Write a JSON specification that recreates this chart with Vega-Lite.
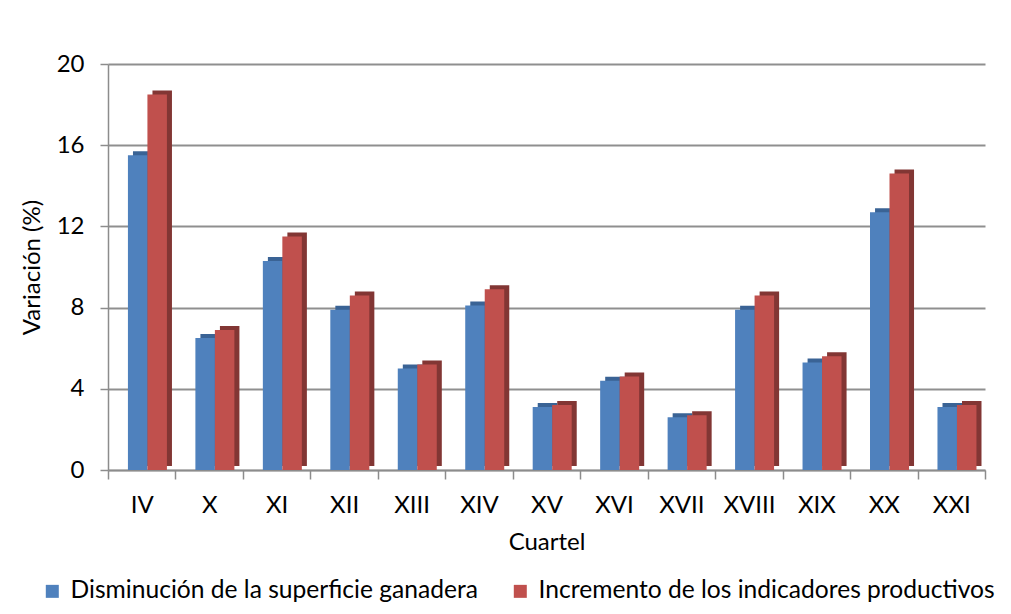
{
  "$schema": "https://vega.github.io/schema/vega-lite/v6.json",
  "width": 877,
  "height": 406,
  "autosize": {"type": "none"},
  "padding": {"left": 108, "top": 64, "right": 26, "bottom": 144},
  "background": "white",
  "config": {
    "view": {"stroke": null},
    "font": "Lato",
    "axis": {
      "labelFont": "Lato", "titleFont": "Lato", "labelFontSize": 24, "titleFontSize": 24,
      "labelColor": "#000000", "titleColor": "#000000", "titleFontWeight": "normal",
      "domainColor": "#8c8c8c", "domainWidth": 1.5, "tickColor": "#8c8c8c", "tickWidth": 1.5
    },
    "legend": {"labelFont": "Lato", "labelFontSize": 24.6, "labelColor": "#000000", "labelLimit": 0}
  },
  "data": {
    "values": [
      {"cuartel": "IV", "serie": "Disminución de la superficie ganadera", "valor": 15.5},
      {"cuartel": "IV", "serie": "Incremento de los indicadores productivos", "valor": 18.5},
      {"cuartel": "X", "serie": "Disminución de la superficie ganadera", "valor": 6.5},
      {"cuartel": "X", "serie": "Incremento de los indicadores productivos", "valor": 6.9},
      {"cuartel": "XI", "serie": "Disminución de la superficie ganadera", "valor": 10.3},
      {"cuartel": "XI", "serie": "Incremento de los indicadores productivos", "valor": 11.5},
      {"cuartel": "XII", "serie": "Disminución de la superficie ganadera", "valor": 7.9},
      {"cuartel": "XII", "serie": "Incremento de los indicadores productivos", "valor": 8.6},
      {"cuartel": "XIII", "serie": "Disminución de la superficie ganadera", "valor": 5.0},
      {"cuartel": "XIII", "serie": "Incremento de los indicadores productivos", "valor": 5.2},
      {"cuartel": "XIV", "serie": "Disminución de la superficie ganadera", "valor": 8.1},
      {"cuartel": "XIV", "serie": "Incremento de los indicadores productivos", "valor": 8.9},
      {"cuartel": "XV", "serie": "Disminución de la superficie ganadera", "valor": 3.1},
      {"cuartel": "XV", "serie": "Incremento de los indicadores productivos", "valor": 3.2},
      {"cuartel": "XVI", "serie": "Disminución de la superficie ganadera", "valor": 4.4},
      {"cuartel": "XVI", "serie": "Incremento de los indicadores productivos", "valor": 4.6},
      {"cuartel": "XVII", "serie": "Disminución de la superficie ganadera", "valor": 2.6},
      {"cuartel": "XVII", "serie": "Incremento de los indicadores productivos", "valor": 2.7},
      {"cuartel": "XVIII", "serie": "Disminución de la superficie ganadera", "valor": 7.9},
      {"cuartel": "XVIII", "serie": "Incremento de los indicadores productivos", "valor": 8.6},
      {"cuartel": "XIX", "serie": "Disminución de la superficie ganadera", "valor": 5.3},
      {"cuartel": "XIX", "serie": "Incremento de los indicadores productivos", "valor": 5.6},
      {"cuartel": "XX", "serie": "Disminución de la superficie ganadera", "valor": 12.7},
      {"cuartel": "XX", "serie": "Incremento de los indicadores productivos", "valor": 14.6},
      {"cuartel": "XXI", "serie": "Disminución de la superficie ganadera", "valor": 3.1},
      {"cuartel": "XXI", "serie": "Incremento de los indicadores productivos", "valor": 3.2}
    ]
  },
  "encoding": {
    "x": {
      "field": "cuartel", "type": "nominal", "sort": null,
      "scale": {"paddingInner": 0, "paddingOuter": 0},
      "axis": {
        "title": "Cuartel", "labelAngle": 0, "tickBand": "extent", "tickSize": 9,
        "labelPadding": 14, "titlePadding": 13, "grid": false
      }
    },
    "y": {
      "field": "valor", "type": "quantitative",
      "scale": {"domain": [0, 20], "nice": false},
      "axis": {
        "title": "Variación (%)", "values": [0, 4, 8, 12, 16, 20], "tickSize": 8,
        "labelPadding": 16, "titlePadding": 12, "grid": true,
        "gridColor": "#8f8f8f", "gridWidth": 1.8
      }
    }
  },
  "layer": [
    {
      "mark": {"type": "bar", "yOffset": -4},
      "encoding": {
        "xOffset": {
          "field": "serie", "type": "nominal", "sort": null,
          "scale": {"paddingInner": 0, "paddingOuter": 0.73, "align": 0.877}
        },
        "fill": {
          "field": "serie", "type": "nominal", "sort": null, "legend": null,
          "scale": {"range": ["#3A6395", "#823634"]}
        }
      }
    },
    {
      "mark": {"type": "bar"},
      "encoding": {
        "xOffset": {
          "field": "serie", "type": "nominal", "sort": null,
          "scale": {"paddingInner": 0, "paddingOuter": 0.73, "align": 0.70}
        },
        "color": {
          "field": "serie", "type": "nominal", "sort": null,
          "scale": {"range": ["#4F81BD", "#C0504D"]},
          "legend": {
            "title": null, "orient": "none", "direction": "horizontal",
            "legendX": -68, "legendY": 515, "symbolType": "square", "symbolSize": 169,
            "symbolStrokeWidth": 0, "labelOffset": 6, "columnPadding": 30
          }
        }
      }
    }
  ],
  "resolve": {"scale": {"xOffset": "independent"}}
}
